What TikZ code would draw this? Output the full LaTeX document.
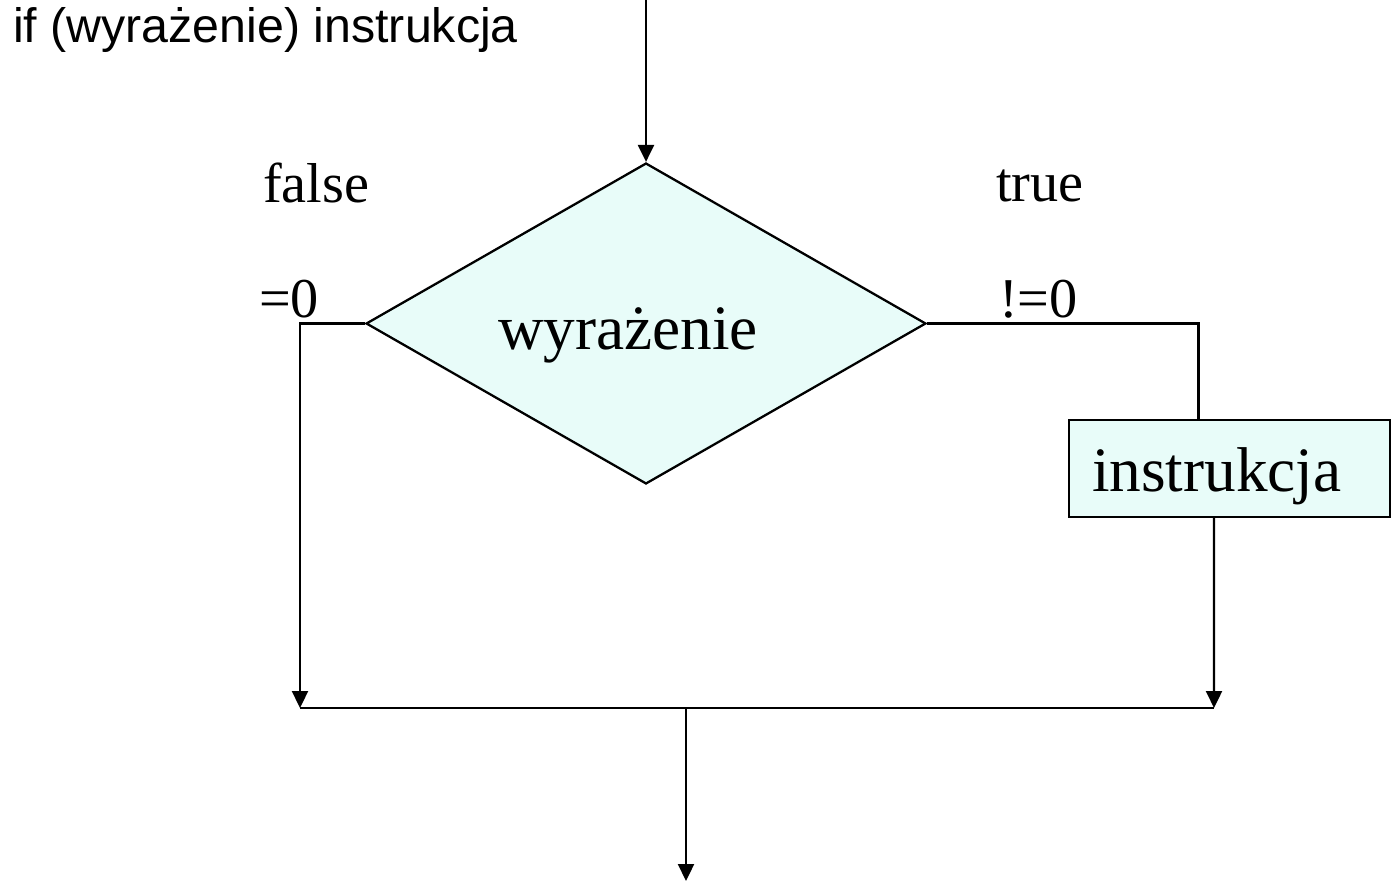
\documentclass[tikz,border=0pt]{standalone}
\usepackage{fontspec}
\setmainfont{Liberation Serif}
\newfontfamily\headfont{Liberation Sans}
\usepackage{xcolor}
\usetikzlibrary{arrows.meta,positioning,shapes.geometric}
\definecolor{Mint}{HTML}{E8FCF9}
\definecolor{Ink}{HTML}{000000}
\begin{document}
\begin{tikzpicture}[x=0.02cm,y=-0.02cm,
    line width=1.3pt,
    cond/.style={diamond,draw=Ink,fill=Mint,inner sep=0pt,minimum width=11.2cm,
      minimum height=6.42cm},
    act/.style={draw=Ink,fill=Mint,inner xsep=0.46cm,inner ysep=0pt,text width=5.5cm,
      align=left,minimum height=1.94cm,text height=1.2cm,text depth=0.26cm,
      font=\fontsize{36}{40}\selectfont},
    lbl/.style={anchor=base west,inner sep=0pt,font=\fontsize{32}{36}\selectfont},
    >={Triangle[length=0.34cm,width=0.32cm]}]
  \useasboundingbox (0,0) rectangle (1391,881);
  \node[anchor=base west,inner sep=0pt,font=\headfont\fontsize{27.5}{32}\selectfont]
    (title) at (12,43) {if (wyrażenie) instrukcja};
  \coordinate (in) at (646,0);
  \node[cond,label={[font=\fontsize{36}{40}\selectfont,text height=0.6cm,text depth=0.2cm,
    xshift=-0.36cm,yshift=-0.33cm]center:wyrażenie}] (W) at (646,323.5) {};
  \node[act] (I) at (1229.5,468.5) {instrukcja};
  % branch labels
  \node[lbl] (F) at (262,203) {false};
  \node[lbl] (T) at (995,202) {true};
  \node[lbl] (Z) at (258,318) {=0};
  \node[lbl] (NZ) at (998,318) {!=0};
  % join
  \coordinate (JL) at (300,708);
  \coordinate (JR) at (1214,708);
  \coordinate (JM) at (686,708);
  \coordinate (out) at (686,881);
  \draw[->] (in) -- (W.north);
  \draw[->] (W.west) -| (JL);
  \draw (W.east) -| ([xshift=-0.62cm]I.north);
  \draw[->] ([xshift=-0.31cm]I.south) -- (JR);
  \draw (JL) -- (JR);
  \draw[->] (JM) -- (out);
\end{tikzpicture}
\end{document}
